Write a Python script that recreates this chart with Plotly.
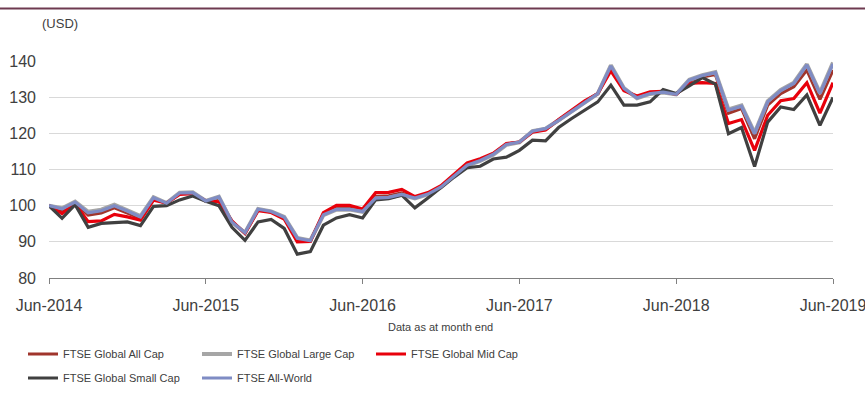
import plotly.graph_objects as go

# month-end labels Jun-2014 .. Jun-2019
month_names = ["Jan", "Feb", "Mar", "Apr", "May", "Jun", "Jul", "Aug", "Sep", "Oct", "Nov", "Dec"]
month_labels = []
for k in range(61):
    m = (5 + k) % 12
    yr = 2014 + (5 + k) // 12
    month_labels.append(month_names[m] + "-" + str(yr))

tick_labels = ["Jun-2014", "Jun-2015", "Jun-2016", "Jun-2017", "Jun-2018", "Jun-2019"]

all_world = [100.0, 99.1, 101.0, 98.0, 98.6, 100.0, 98.5, 96.9, 102.2, 100.7,
             103.5, 103.6, 101.3, 102.4, 95.5, 92.5, 99.0, 98.4, 96.8, 91.0,
             90.3, 97.5, 99.0, 99.0, 98.4, 102.1, 102.3, 103.1, 102.1, 103.2,
             105.2, 108.2, 111.2, 112.5, 114.2, 116.9, 117.6, 120.6, 121.3, 123.6,
             126.1, 128.7, 131.0, 138.6, 132.4, 129.8, 131.0, 131.4, 130.8, 134.7,
             136.0, 136.8, 126.4, 127.5, 119.9, 128.7, 131.8, 133.8, 138.9, 131.0,
             139.2]
large_cap = [100.0, 99.3, 101.1, 98.3, 98.9, 100.3, 98.7, 97.1, 102.3, 100.7,
             103.6, 103.7, 101.3, 102.5, 95.4, 92.5, 99.1, 98.4, 96.9, 91.1,
             90.4, 97.4, 98.9, 98.9, 98.3, 102.0, 102.2, 103.0, 102.0, 103.1,
             105.1, 108.1, 111.1, 112.4, 114.1, 116.8, 117.5, 120.6, 121.3, 123.6,
             126.1, 128.7, 131.0, 138.8, 132.5, 129.7, 130.9, 131.3, 130.8, 134.8,
             136.1, 136.9, 126.6, 127.7, 120.1, 128.9, 132.0, 134.0, 139.1, 131.2,
             139.6]
all_cap = [100.0, 98.6, 100.8, 97.4, 98.0, 99.4, 98.0, 96.5, 101.9, 100.7,
           103.4, 103.5, 101.3, 102.1, 95.6, 92.4, 98.9, 98.3, 96.6, 90.7,
           90.2, 97.7, 99.3, 99.3, 98.6, 102.5, 102.7, 103.5, 102.2, 103.3,
           105.3, 108.4, 111.4, 112.7, 114.3, 117.0, 117.6, 120.5, 121.1, 123.6,
           126.2, 128.8, 131.0, 138.3, 132.2, 129.9, 131.1, 131.5, 130.8, 134.4,
           135.6, 136.3, 125.6, 126.9, 118.5, 127.8, 131.0, 132.9, 137.5, 129.4,
           137.5]
mid_cap = [100.0, 97.8, 100.5, 95.6, 95.8, 97.6, 96.9, 96.0, 101.5, 100.7,
           103.1, 103.3, 101.3, 101.1, 95.8, 92.3, 98.6, 98.1, 96.3, 90.0,
           90.1, 98.1, 100.1, 100.1, 99.1, 103.6, 103.7, 104.5, 102.5, 103.6,
           105.5, 108.8, 111.8, 113.0, 114.5, 117.2, 117.6, 120.3, 120.9, 123.8,
           126.4, 129.0, 131.0, 137.3, 131.8, 130.3, 131.5, 131.6, 130.8, 133.8,
           134.0, 133.8, 122.7, 123.8, 115.3, 125.0, 129.0, 129.6, 134.0, 125.6,
           134.0]
small_cap = [100.0, 96.5, 100.3, 94.0, 95.1, 95.3, 95.5, 94.5, 99.8, 100.0,
             101.6, 102.7, 101.2, 100.0, 94.0, 90.4, 95.5, 96.2, 93.7, 86.6,
             87.3, 94.6, 96.6, 97.5, 96.6, 101.6, 101.9, 102.9, 99.4, 102.1,
             105.0, 107.9, 110.5, 110.9, 112.9, 113.4, 115.3, 118.1, 117.9, 121.6,
             124.1, 126.4, 128.7, 133.3, 127.8, 127.8, 128.7, 132.1, 131.0, 133.1,
             135.4, 133.6, 119.9, 121.6, 110.8, 123.1, 127.3, 126.6, 130.6, 122.2,
             129.9]

series = [
    ("FTSE Global All Cap", all_cap, "#a0352c", "legend"),
    ("FTSE Global Large Cap", large_cap, "#a6a6a6", "legend"),
    ("FTSE Global Mid Cap", mid_cap, "#e8000b", "legend"),
    ("FTSE Global Small Cap", small_cap, "#404040", "legend2"),
    ("FTSE All-World", all_world, "#7f8cc4", "legend2"),
]

fig = go.Figure()
for name, vals, color, lg in series:
    fig.add_trace(go.Scatter(
        x=month_labels, y=vals, mode="lines", name=name,
        line=dict(color=color, width=3.2 if name != "FTSE Global Large Cap" else 4),
        legend=lg, hoverinfo="skip",
    ))

W, H = 865, 412
L, R, T, B = 49, 32, 61, 134
pw, ph = W - L - R, H - T - B


def px_x(px):
    return (px - L) / pw


def px_y(py):
    return (H - B - py) / ph


base_font = "Liberation Sans, Arial, sans-serif"
legend_common = dict(
    orientation="h", xanchor="left", yanchor="middle", x=px_x(23),
    entrywidth=129, entrywidthmode="pixels",
    font=dict(family=base_font, size=11, color="#404040"),
    bgcolor="rgba(0,0,0,0)", itemclick=False, itemdoubleclick=False,
    traceorder="normal",
)

fig.update_layout(
    width=W, height=H,
    margin=dict(l=L, r=R, t=T, b=B, pad=0, autoexpand=False),
    paper_bgcolor="white", plot_bgcolor="white",
    font=dict(family=base_font, color="#404040"),
    showlegend=True,
    legend=dict(legend_common, y=px_y(354)),
    legend2=dict(legend_common, y=px_y(378)),
    xaxis=dict(
        type="category", categoryorder="array", categoryarray=month_labels,
        range=[0, 60], tickvals=tick_labels, ticktext=tick_labels,
        showgrid=False, showline=True, linecolor="#808080", linewidth=1,
        ticks="outside", ticklen=5, tickcolor="#808080", tickwidth=1,
        tickfont=dict(family=base_font, size=16, color="#404040"),
        ticklabelstandoff=8, zeroline=False, automargin=False,
    ),
    yaxis=dict(
        range=[80, 140], tickvals=[80, 90, 100, 110, 120, 130, 140],
        showgrid=True, gridcolor="#d9d9d9", gridwidth=1,
        showline=False, zeroline=False, ticks="",
        tickfont=dict(family=base_font, size=16, color="#404040"),
        ticklabelstandoff=12, automargin=False,
    ),
    shapes=[dict(type="line", xref="paper", yref="paper",
                 x0=px_x(0), x1=px_x(W), y0=px_y(8.5), y1=px_y(8.5),
                 line=dict(color="#6e3a50", width=2))],
    annotations=[
        dict(text="(USD)", xref="paper", yref="paper", x=px_x(40), y=px_y(23),
             xanchor="left", yanchor="middle", showarrow=False,
             font=dict(family=base_font, size=13, color="#404040")),
        dict(text="Data as at month end", xref="paper", yref="paper", x=px_x(440.5), y=px_y(327),
             xanchor="center", yanchor="middle", showarrow=False,
             font=dict(family=base_font, size=11, color="#404040")),
    ],
)

fig.write_html("out.html", config={"displayModeBar": False},
               post_script="document.body.style.margin='0';document.body.style.overflow='hidden';")
